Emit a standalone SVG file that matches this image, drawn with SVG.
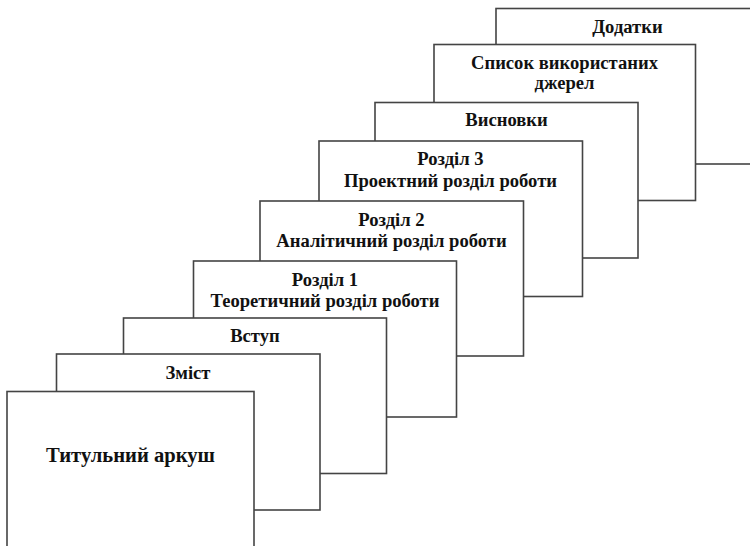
<svg xmlns="http://www.w3.org/2000/svg" width="750" height="546" viewBox="0 0 750 546">
<style>
.card rect{fill:#fff;stroke:#444;stroke-width:1.6}
.card text{font-family:"Liberation Serif","Times New Roman",serif;font-weight:bold;font-size:18.6px;fill:#111;text-anchor:middle}
.card text.big{font-size:20.6px}
</style>
<rect width="750" height="546" fill="#fff"/>
<g id="dodatky" class="card"><rect x="496" y="8.5" width="263" height="155.5"/><text x="627.5" y="33">Додатки</text></g>
<g id="spysok" class="card"><rect x="434" y="44.5" width="261.5" height="156"/><text x="564.5" y="69">Список використаних</text><text x="564.5" y="89">джерел</text></g>
<g id="vysnovky" class="card"><rect x="375" y="102.5" width="263" height="155.5"/><text x="506.5" y="126">Висновки</text></g>
<g id="rozdil3" class="card"><rect x="319" y="141" width="263.5" height="155.5"/><text x="450.5" y="165">Розділ 3</text><text x="450.5" y="186.5">Проектний розділ роботи</text></g>
<g id="rozdil2" class="card"><rect x="260" y="201" width="263.5" height="155"/><text x="391.5" y="225.5">Розділ 2</text><text x="391.5" y="246.5">Аналітичний розділ роботи</text></g>
<g id="rozdil1" class="card"><rect x="193.5" y="261" width="263" height="156"/><text x="325" y="286">Розділ 1</text><text x="325" y="306.5">Теоретичний розділ роботи</text></g>
<g id="vstup" class="card"><rect x="123.5" y="318" width="263" height="155.5"/><text x="255" y="342">Вступ</text></g>
<g id="zmist" class="card"><rect x="56.5" y="354" width="263.5" height="156"/><text x="188" y="379">Зміст</text></g>
<g id="tytulnyi" class="card"><rect x="7" y="391.5" width="247" height="160"/><text class="big" x="130.5" y="461.5">Титульний аркуш</text></g>
<g id="connectors"></g>
</svg>
